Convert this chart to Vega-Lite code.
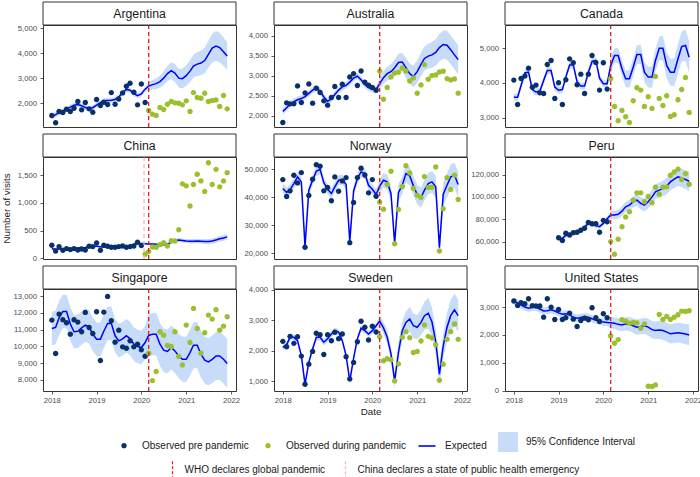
{
  "$schema": "https://vega.github.io/schema/vega-lite/v6.json",
  "padding": {"left": 0, "right": 2, "top": 0, "bottom": 2},
  "datasets": {
    "ev": [
      {"k": "who", "d": "2020-03-01", "event": "WHO declares global pandemic"},
      {"k": "china", "d": "2020-01-23", "event": "China declares a state of public health emergency"}
    ],
    "names": [
      {"c": "Argentina"}, {"c": "Australia"}, {"c": "Canada"}, {"c": "China"}, {"c": "Norway"}, {"c": "Peru"}, {"c": "Singapore"}, {"c": "Sweden"}, {"c": "United States"}
    ],
    "obs": [
      {"c":"Argentina","d":"2018-01-01","o":1511,"p":"pre","e":1450,"l":1350,"h":1550},
      {"c":"Argentina","d":"2018-02-01","o":1220,"p":"pre","e":1540,"l":1440,"h":1640},
      {"c":"Argentina","d":"2018-03-01","o":1670,"p":"pre","e":1620,"l":1520,"h":1720},
      {"c":"Argentina","d":"2018-04-01","o":1630,"p":"pre","e":1680,"l":1580,"h":1780},
      {"c":"Argentina","d":"2018-05-01","o":1760,"p":"pre","e":1760,"l":1660,"h":1860},
      {"c":"Argentina","d":"2018-06-01","o":1670,"p":"pre","e":1840,"l":1740,"h":1940},
      {"c":"Argentina","d":"2018-07-01","o":1800,"p":"pre","e":1920,"l":1820,"h":2020},
      {"c":"Argentina","d":"2018-08-01","o":2066,"p":"pre","e":1950,"l":1850,"h":2050},
      {"c":"Argentina","d":"2018-09-01","o":1735,"p":"pre","e":1900,"l":1800,"h":2000},
      {"c":"Argentina","d":"2018-10-01","o":2026,"p":"pre","e":1830,"l":1730,"h":1930},
      {"c":"Argentina","d":"2018-11-01","o":1775,"p":"pre","e":1790,"l":1690,"h":1890},
      {"c":"Argentina","d":"2018-12-01","o":1640,"p":"pre","e":1820,"l":1720,"h":1920},
      {"c":"Argentina","d":"2019-01-01","o":2145,"p":"pre","e":1920,"l":1820,"h":2020},
      {"c":"Argentina","d":"2019-02-01","o":1907,"p":"pre","e":2020,"l":1920,"h":2120},
      {"c":"Argentina","d":"2019-03-01","o":2040,"p":"pre","e":2100,"l":2000,"h":2200},
      {"c":"Argentina","d":"2019-04-01","o":1947,"p":"pre","e":2110,"l":2010,"h":2210},
      {"c":"Argentina","d":"2019-05-01","o":2423,"p":"pre","e":2120,"l":2020,"h":2220},
      {"c":"Argentina","d":"2019-06-01","o":1960,"p":"pre","e":2150,"l":2050,"h":2250},
      {"c":"Argentina","d":"2019-07-01","o":2170,"p":"pre","e":2250,"l":2150,"h":2350},
      {"c":"Argentina","d":"2019-08-01","o":2410,"p":"pre","e":2420,"l":2320,"h":2520},
      {"c":"Argentina","d":"2019-09-01","o":2675,"p":"pre","e":2550,"l":2450,"h":2650},
      {"c":"Argentina","d":"2019-10-01","o":2794,"p":"pre","e":2520,"l":2420,"h":2620},
      {"c":"Argentina","d":"2019-11-01","o":2437,"p":"pre","e":2380,"l":2280,"h":2480},
      {"c":"Argentina","d":"2019-12-01","o":1934,"p":"pre","e":2300,"l":2200,"h":2400},
      {"c":"Argentina","d":"2020-01-01","o":2767,"p":"pre","e":2370,"l":2270,"h":2470},
      {"c":"Argentina","d":"2020-02-01","o":2026,"p":"pre","e":2560,"l":2460,"h":2660},
      {"c":"Argentina","d":"2020-03-01","o":1709,"p":"dur","e":2680,"l":2510,"h":2850},
      {"c":"Argentina","d":"2020-04-01","o":1563,"p":"dur","e":2740,"l":2550,"h":2930},
      {"c":"Argentina","d":"2020-05-01","o":1511,"p":"dur","e":2780,"l":2570,"h":2990},
      {"c":"Argentina","d":"2020-06-01","o":1828,"p":"dur","e":2860,"l":2620,"h":3100},
      {"c":"Argentina","d":"2020-07-01","o":1749,"p":"dur","e":3000,"l":2730,"h":3270},
      {"c":"Argentina","d":"2020-08-01","o":1960,"p":"dur","e":3180,"l":2880,"h":3480},
      {"c":"Argentina","d":"2020-09-01","o":2066,"p":"dur","e":3300,"l":2970,"h":3630},
      {"c":"Argentina","d":"2020-10-01","o":2013,"p":"dur","e":3200,"l":2850,"h":3550},
      {"c":"Argentina","d":"2020-11-01","o":2000,"p":"dur","e":3000,"l":2630,"h":3370},
      {"c":"Argentina","d":"2020-12-01","o":1934,"p":"dur","e":2980,"l":2590,"h":3370},
      {"c":"Argentina","d":"2021-01-01","o":2093,"p":"dur","e":3100,"l":2690,"h":3510},
      {"c":"Argentina","d":"2021-02-01","o":1670,"p":"dur","e":3280,"l":2850,"h":3710},
      {"c":"Argentina","d":"2021-03-01","o":2423,"p":"dur","e":3480,"l":3030,"h":3930},
      {"c":"Argentina","d":"2021-04-01","o":2225,"p":"dur","e":3560,"l":3090,"h":4030},
      {"c":"Argentina","d":"2021-05-01","o":2198,"p":"dur","e":3600,"l":3110,"h":4090},
      {"c":"Argentina","d":"2021-06-01","o":2397,"p":"dur","e":3700,"l":3190,"h":4210},
      {"c":"Argentina","d":"2021-07-01","o":2066,"p":"dur","e":3950,"l":3410,"h":4490},
      {"c":"Argentina","d":"2021-08-01","o":2106,"p":"dur","e":4200,"l":3630,"h":4770},
      {"c":"Argentina","d":"2021-09-01","o":2132,"p":"dur","e":4280,"l":3680,"h":4880},
      {"c":"Argentina","d":"2021-10-01","o":1868,"p":"dur","e":4220,"l":3630,"h":4810},
      {"c":"Argentina","d":"2021-11-01","o":2304,"p":"dur","e":4050,"l":3480,"h":4620},
      {"c":"Argentina","d":"2021-12-01","o":1775,"p":"dur","e":3880,"l":3330,"h":4430},

      {"c":"Australia","d":"2018-01-01","o":1834,"p":"pre","e":2110,"l":2030,"h":2190},
      {"c":"Australia","d":"2018-02-01","o":2323,"p":"pre","e":2200,"l":2120,"h":2280},
      {"c":"Australia","d":"2018-03-01","o":2298,"p":"pre","e":2290,"l":2210,"h":2370},
      {"c":"Australia","d":"2018-04-01","o":2298,"p":"pre","e":2350,"l":2270,"h":2430},
      {"c":"Australia","d":"2018-05-01","o":2746,"p":"pre","e":2400,"l":2320,"h":2480},
      {"c":"Australia","d":"2018-06-01","o":2332,"p":"pre","e":2430,"l":2350,"h":2510},
      {"c":"Australia","d":"2018-07-01","o":2572,"p":"pre","e":2480,"l":2400,"h":2560},
      {"c":"Australia","d":"2018-08-01","o":2796,"p":"pre","e":2560,"l":2480,"h":2640},
      {"c":"Australia","d":"2018-09-01","o":2315,"p":"pre","e":2640,"l":2560,"h":2720},
      {"c":"Australia","d":"2018-10-01","o":2688,"p":"pre","e":2690,"l":2610,"h":2770},
      {"c":"Australia","d":"2018-11-01","o":2580,"p":"pre","e":2620,"l":2540,"h":2700},
      {"c":"Australia","d":"2018-12-01","o":2373,"p":"pre","e":2470,"l":2390,"h":2550},
      {"c":"Australia","d":"2019-01-01","o":2265,"p":"pre","e":2360,"l":2280,"h":2440},
      {"c":"Australia","d":"2019-02-01","o":2456,"p":"pre","e":2420,"l":2340,"h":2500},
      {"c":"Australia","d":"2019-03-01","o":2730,"p":"pre","e":2530,"l":2450,"h":2610},
      {"c":"Australia","d":"2019-04-01","o":2456,"p":"pre","e":2640,"l":2560,"h":2720},
      {"c":"Australia","d":"2019-05-01","o":2788,"p":"pre","e":2720,"l":2640,"h":2800},
      {"c":"Australia","d":"2019-06-01","o":2456,"p":"pre","e":2760,"l":2680,"h":2840},
      {"c":"Australia","d":"2019-07-01","o":2970,"p":"pre","e":2840,"l":2760,"h":2920},
      {"c":"Australia","d":"2019-08-01","o":3053,"p":"pre","e":2940,"l":2860,"h":3020},
      {"c":"Australia","d":"2019-09-01","o":2754,"p":"pre","e":2990,"l":2910,"h":3070},
      {"c":"Australia","d":"2019-10-01","o":3119,"p":"pre","e":2900,"l":2820,"h":2980},
      {"c":"Australia","d":"2019-11-01","o":2837,"p":"pre","e":2780,"l":2700,"h":2860},
      {"c":"Australia","d":"2019-12-01","o":2763,"p":"pre","e":2700,"l":2620,"h":2780},
      {"c":"Australia","d":"2020-01-01","o":2705,"p":"pre","e":2660,"l":2580,"h":2740},
      {"c":"Australia","d":"2020-02-01","o":2638,"p":"pre","e":2650,"l":2570,"h":2730},
      {"c":"Australia","d":"2020-03-01","o":3111,"p":"dur","e":2800,"l":2660,"h":2940},
      {"c":"Australia","d":"2020-04-01","o":2414,"p":"dur","e":2950,"l":2790,"h":3110},
      {"c":"Australia","d":"2020-05-01","o":2705,"p":"dur","e":3050,"l":2875,"h":3225},
      {"c":"Australia","d":"2020-06-01","o":2970,"p":"dur","e":3100,"l":2910,"h":3290},
      {"c":"Australia","d":"2020-07-01","o":3069,"p":"dur","e":3200,"l":2995,"h":3405},
      {"c":"Australia","d":"2020-08-01","o":3086,"p":"dur","e":3330,"l":3110,"h":3550},
      {"c":"Australia","d":"2020-09-01","o":3194,"p":"dur","e":3340,"l":3105,"h":3575},
      {"c":"Australia","d":"2020-10-01","o":3119,"p":"dur","e":3200,"l":2950,"h":3450},
      {"c":"Australia","d":"2020-11-01","o":2870,"p":"dur","e":3050,"l":2790,"h":3310},
      {"c":"Australia","d":"2020-12-01","o":2945,"p":"dur","e":2980,"l":2710,"h":3250},
      {"c":"Australia","d":"2021-01-01","o":2564,"p":"dur","e":3100,"l":2820,"h":3380},
      {"c":"Australia","d":"2021-02-01","o":2771,"p":"dur","e":3280,"l":2990,"h":3570},
      {"c":"Australia","d":"2021-03-01","o":3277,"p":"dur","e":3430,"l":3130,"h":3730},
      {"c":"Australia","d":"2021-04-01","o":2912,"p":"dur","e":3490,"l":3180,"h":3800},
      {"c":"Australia","d":"2021-05-01","o":3003,"p":"dur","e":3520,"l":3200,"h":3840},
      {"c":"Australia","d":"2021-06-01","o":3020,"p":"dur","e":3580,"l":3250,"h":3910},
      {"c":"Australia","d":"2021-07-01","o":3094,"p":"dur","e":3700,"l":3360,"h":4040},
      {"c":"Australia","d":"2021-08-01","o":3111,"p":"dur","e":3780,"l":3430,"h":4130},
      {"c":"Australia","d":"2021-09-01","o":2928,"p":"dur","e":3760,"l":3400,"h":4120},
      {"c":"Australia","d":"2021-10-01","o":2895,"p":"dur","e":3650,"l":3290,"h":4010},
      {"c":"Australia","d":"2021-11-01","o":2920,"p":"dur","e":3520,"l":3160,"h":3880},
      {"c":"Australia","d":"2021-12-01","o":2564,"p":"dur","e":3400,"l":3040,"h":3760},

      {"c":"Canada","d":"2018-01-01","o":4083,"p":"pre","e":3590,"l":3490,"h":3690},
      {"c":"Canada","d":"2018-02-01","o":3383,"p":"pre","e":3590,"l":3490,"h":3690},
      {"c":"Canada","d":"2018-03-01","o":4130,"p":"pre","e":3930,"l":3830,"h":4030},
      {"c":"Canada","d":"2018-04-01","o":4198,"p":"pre","e":4290,"l":4190,"h":4390},
      {"c":"Canada","d":"2018-05-01","o":4427,"p":"pre","e":4310,"l":4210,"h":4410},
      {"c":"Canada","d":"2018-06-01","o":3881,"p":"pre","e":3810,"l":3710,"h":3910},
      {"c":"Canada","d":"2018-07-01","o":3939,"p":"pre","e":3740,"l":3640,"h":3840},
      {"c":"Canada","d":"2018-08-01","o":3718,"p":"pre","e":3760,"l":3660,"h":3860},
      {"c":"Canada","d":"2018-09-01","o":3699,"p":"pre","e":4070,"l":3970,"h":4170},
      {"c":"Canada","d":"2018-10-01","o":4533,"p":"pre","e":4360,"l":4260,"h":4460},
      {"c":"Canada","d":"2018-11-01","o":4648,"p":"pre","e":4360,"l":4260,"h":4460},
      {"c":"Canada","d":"2018-12-01","o":3556,"p":"pre","e":3880,"l":3780,"h":3980},
      {"c":"Canada","d":"2019-01-01","o":4006,"p":"pre","e":3790,"l":3690,"h":3890},
      {"c":"Canada","d":"2019-02-01","o":3383,"p":"pre","e":3810,"l":3710,"h":3910},
      {"c":"Canada","d":"2019-03-01","o":4092,"p":"pre","e":4170,"l":4070,"h":4270},
      {"c":"Canada","d":"2019-04-01","o":4696,"p":"pre","e":4520,"l":4420,"h":4620},
      {"c":"Canada","d":"2019-05-01","o":4581,"p":"pre","e":4520,"l":4420,"h":4620},
      {"c":"Canada","d":"2019-06-01","o":3948,"p":"pre","e":4030,"l":3930,"h":4130},
      {"c":"Canada","d":"2019-07-01","o":4255,"p":"pre","e":3910,"l":3810,"h":4010},
      {"c":"Canada","d":"2019-08-01","o":3699,"p":"pre","e":3910,"l":3810,"h":4010},
      {"c":"Canada","d":"2019-09-01","o":4255,"p":"pre","e":4310,"l":4210,"h":4410},
      {"c":"Canada","d":"2019-10-01","o":4791,"p":"pre","e":4620,"l":4520,"h":4720},
      {"c":"Canada","d":"2019-11-01","o":4590,"p":"pre","e":4650,"l":4550,"h":4750},
      {"c":"Canada","d":"2019-12-01","o":3795,"p":"pre","e":4140,"l":4040,"h":4240},
      {"c":"Canada","d":"2020-01-01","o":4581,"p":"pre","e":3980,"l":3880,"h":4080},
      {"c":"Canada","d":"2020-02-01","o":3824,"p":"pre","e":3980,"l":3880,"h":4080},
      {"c":"Canada","d":"2020-03-01","o":4130,"p":"dur","e":4500,"l":4300,"h":4700},
      {"c":"Canada","d":"2020-04-01","o":3326,"p":"dur","e":4790,"l":4580,"h":5000},
      {"c":"Canada","d":"2020-05-01","o":2914,"p":"dur","e":4790,"l":4570,"h":5010},
      {"c":"Canada","d":"2020-06-01","o":3211,"p":"dur","e":4410,"l":4180,"h":4640},
      {"c":"Canada","d":"2020-07-01","o":3029,"p":"dur","e":4120,"l":3880,"h":4360},
      {"c":"Canada","d":"2020-08-01","o":2866,"p":"dur","e":4120,"l":3870,"h":4370},
      {"c":"Canada","d":"2020-09-01","o":3489,"p":"dur","e":4460,"l":4200,"h":4720},
      {"c":"Canada","d":"2020-10-01","o":3862,"p":"dur","e":4820,"l":4550,"h":5090},
      {"c":"Canada","d":"2020-11-01","o":3795,"p":"dur","e":4820,"l":4540,"h":5100},
      {"c":"Canada","d":"2020-12-01","o":3326,"p":"dur","e":4310,"l":4020,"h":4600},
      {"c":"Canada","d":"2021-01-01","o":3604,"p":"dur","e":4170,"l":3870,"h":4470},
      {"c":"Canada","d":"2021-02-01","o":3268,"p":"dur","e":4170,"l":3860,"h":4480},
      {"c":"Canada","d":"2021-03-01","o":4188,"p":"dur","e":4650,"l":4330,"h":4970},
      {"c":"Canada","d":"2021-04-01","o":3556,"p":"dur","e":5000,"l":4670,"h":5330},
      {"c":"Canada","d":"2021-05-01","o":3354,"p":"dur","e":5000,"l":4640,"h":5360},
      {"c":"Canada","d":"2021-06-01","o":3632,"p":"dur","e":4500,"l":4130,"h":4870},
      {"c":"Canada","d":"2021-07-01","o":3038,"p":"dur","e":4310,"l":3930,"h":4690},
      {"c":"Canada","d":"2021-08-01","o":3086,"p":"dur","e":4310,"l":3910,"h":4710},
      {"c":"Canada","d":"2021-09-01","o":3517,"p":"dur","e":4700,"l":4280,"h":5120},
      {"c":"Canada","d":"2021-10-01","o":3814,"p":"dur","e":5050,"l":4610,"h":5490},
      {"c":"Canada","d":"2021-11-01","o":4159,"p":"dur","e":5080,"l":4630,"h":5530},
      {"c":"Canada","d":"2021-12-01","o":3153,"p":"dur","e":4740,"l":4290,"h":5190},

      {"c":"China","d":"2018-01-01","o":233,"p":"pre","e":170,"l":155,"h":185},
      {"c":"China","d":"2018-02-01","o":131,"p":"pre","e":160,"l":145,"h":175},
      {"c":"China","d":"2018-03-01","o":209,"p":"pre","e":165,"l":150,"h":180},
      {"c":"China","d":"2018-04-01","o":143,"p":"pre","e":170,"l":155,"h":185},
      {"c":"China","d":"2018-05-01","o":173,"p":"pre","e":170,"l":155,"h":185},
      {"c":"China","d":"2018-06-01","o":155,"p":"pre","e":175,"l":160,"h":190},
      {"c":"China","d":"2018-07-01","o":173,"p":"pre","e":180,"l":165,"h":195},
      {"c":"China","d":"2018-08-01","o":149,"p":"pre","e":185,"l":170,"h":200},
      {"c":"China","d":"2018-09-01","o":167,"p":"pre","e":190,"l":175,"h":205},
      {"c":"China","d":"2018-10-01","o":149,"p":"pre","e":195,"l":180,"h":210},
      {"c":"China","d":"2018-11-01","o":215,"p":"pre","e":205,"l":190,"h":220},
      {"c":"China","d":"2018-12-01","o":209,"p":"pre","e":215,"l":200,"h":230},
      {"c":"China","d":"2019-01-01","o":275,"p":"pre","e":215,"l":200,"h":230},
      {"c":"China","d":"2019-02-01","o":143,"p":"pre","e":205,"l":190,"h":220},
      {"c":"China","d":"2019-03-01","o":233,"p":"pre","e":200,"l":185,"h":215},
      {"c":"China","d":"2019-04-01","o":215,"p":"pre","e":200,"l":185,"h":215},
      {"c":"China","d":"2019-05-01","o":197,"p":"pre","e":200,"l":185,"h":215},
      {"c":"China","d":"2019-06-01","o":197,"p":"pre","e":200,"l":185,"h":215},
      {"c":"China","d":"2019-07-01","o":209,"p":"pre","e":205,"l":190,"h":220},
      {"c":"China","d":"2019-08-01","o":221,"p":"pre","e":210,"l":195,"h":225},
      {"c":"China","d":"2019-09-01","o":197,"p":"pre","e":215,"l":200,"h":230},
      {"c":"China","d":"2019-10-01","o":209,"p":"pre","e":225,"l":210,"h":240},
      {"c":"China","d":"2019-11-01","o":221,"p":"pre","e":250,"l":235,"h":265},
      {"c":"China","d":"2019-12-01","o":287,"p":"pre","e":270,"l":255,"h":285},
      {"c":"China","d":"2020-01-01","o":227,"p":"pre","e":265,"l":250,"h":280},
      {"c":"China","d":"2020-02-01","o":72,"p":"dur","e":260,"l":240,"h":280},
      {"c":"China","d":"2020-03-01","o":119,"p":"dur","e":255,"l":233,"h":277},
      {"c":"China","d":"2020-04-01","o":203,"p":"dur","e":255,"l":232,"h":278},
      {"c":"China","d":"2020-05-01","o":197,"p":"dur","e":250,"l":225,"h":275},
      {"c":"China","d":"2020-06-01","o":245,"p":"dur","e":245,"l":219,"h":271},
      {"c":"China","d":"2020-07-01","o":281,"p":"dur","e":245,"l":217,"h":273},
      {"c":"China","d":"2020-08-01","o":221,"p":"dur","e":255,"l":226,"h":284},
      {"c":"China","d":"2020-09-01","o":317,"p":"dur","e":285,"l":254,"h":316},
      {"c":"China","d":"2020-10-01","o":311,"p":"dur","e":315,"l":283,"h":347},
      {"c":"China","d":"2020-11-01","o":514,"p":"dur","e":330,"l":296,"h":364},
      {"c":"China","d":"2020-12-01","o":1344,"p":"dur","e":320,"l":285,"h":355},
      {"c":"China","d":"2021-01-01","o":1308,"p":"dur","e":310,"l":273,"h":347},
      {"c":"China","d":"2021-02-01","o":944,"p":"dur","e":305,"l":267,"h":343},
      {"c":"China","d":"2021-03-01","o":1332,"p":"dur","e":305,"l":265,"h":345},
      {"c":"China","d":"2021-04-01","o":1517,"p":"dur","e":310,"l":269,"h":351},
      {"c":"China","d":"2021-05-01","o":1398,"p":"dur","e":305,"l":262,"h":348},
      {"c":"China","d":"2021-06-01","o":1207,"p":"dur","e":300,"l":256,"h":344},
      {"c":"China","d":"2021-07-01","o":1726,"p":"dur","e":300,"l":254,"h":346},
      {"c":"China","d":"2021-08-01","o":1332,"p":"dur","e":310,"l":263,"h":357},
      {"c":"China","d":"2021-09-01","o":1607,"p":"dur","e":330,"l":281,"h":379},
      {"c":"China","d":"2021-10-01","o":1290,"p":"dur","e":350,"l":300,"h":400},
      {"c":"China","d":"2021-11-01","o":1398,"p":"dur","e":365,"l":313,"h":417},
      {"c":"China","d":"2021-12-01","o":1547,"p":"dur","e":385,"l":332,"h":438},

      {"c":"Norway","d":"2018-01-01","o":46330,"p":"pre","e":43130,"l":41330,"h":44930},
      {"c":"Norway","d":"2018-02-01","o":40280,"p":"pre","e":41700,"l":39900,"h":43500},
      {"c":"Norway","d":"2018-03-01","o":42300,"p":"pre","e":42770,"l":40970,"h":44570},
      {"c":"Norway","d":"2018-04-01","o":47870,"p":"pre","e":44910,"l":43110,"h":46710},
      {"c":"Norway","d":"2018-05-01","o":45140,"p":"pre","e":47280,"l":45480,"h":49080},
      {"c":"Norway","d":"2018-06-01","o":48820,"p":"pre","e":45500,"l":43700,"h":47300},
      {"c":"Norway","d":"2018-07-01","o":22140,"p":"pre","e":22370,"l":20570,"h":24170},
      {"c":"Norway","d":"2018-08-01","o":40640,"p":"pre","e":42530,"l":40730,"h":44330},
      {"c":"Norway","d":"2018-09-01","o":46450,"p":"pre","e":46090,"l":44290,"h":47890},
      {"c":"Norway","d":"2018-10-01","o":51670,"p":"pre","e":49290,"l":47490,"h":51090},
      {"c":"Norway","d":"2018-11-01","o":51070,"p":"pre","e":50010,"l":48210,"h":51810},
      {"c":"Norway","d":"2018-12-01","o":42300,"p":"pre","e":45260,"l":43460,"h":47060},
      {"c":"Norway","d":"2019-01-01","o":43480,"p":"pre","e":42890,"l":41090,"h":44690},
      {"c":"Norway","d":"2019-02-01","o":38740,"p":"pre","e":41350,"l":39550,"h":43150},
      {"c":"Norway","d":"2019-03-01","o":47280,"p":"pre","e":43720,"l":41920,"h":45520},
      {"c":"Norway","d":"2019-04-01","o":42180,"p":"pre","e":46090,"l":44290,"h":47890},
      {"c":"Norway","d":"2019-05-01","o":45860,"p":"pre","e":46330,"l":44530,"h":48130},
      {"c":"Norway","d":"2019-06-01","o":47040,"p":"pre","e":44550,"l":42750,"h":46350},
      {"c":"Norway","d":"2019-07-01","o":23800,"p":"pre","e":24150,"l":22350,"h":25950},
      {"c":"Norway","d":"2019-08-01","o":38150,"p":"pre","e":42180,"l":40380,"h":43980},
      {"c":"Norway","d":"2019-09-01","o":47040,"p":"pre","e":46690,"l":44890,"h":48490},
      {"c":"Norway","d":"2019-10-01","o":50360,"p":"pre","e":49060,"l":47260,"h":50860},
      {"c":"Norway","d":"2019-11-01","o":47990,"p":"pre","e":48460,"l":46660,"h":50260},
      {"c":"Norway","d":"2019-12-01","o":41590,"p":"pre","e":44310,"l":42510,"h":46110},
      {"c":"Norway","d":"2020-01-01","o":46330,"p":"pre","e":42890,"l":41090,"h":44690},
      {"c":"Norway","d":"2020-02-01","o":40400,"p":"pre","e":40990,"l":39190,"h":42790},
      {"c":"Norway","d":"2020-03-01","o":38260,"p":"dur","e":43960,"l":41460,"h":46460},
      {"c":"Norway","d":"2020-04-01","o":35770,"p":"dur","e":46090,"l":43490,"h":48690},
      {"c":"Norway","d":"2020-05-01","o":44550,"p":"dur","e":45500,"l":42800,"h":48200},
      {"c":"Norway","d":"2020-06-01","o":49290,"p":"dur","e":41350,"l":38550,"h":44150},
      {"c":"Norway","d":"2020-07-01","o":23440,"p":"dur","e":23560,"l":21060,"h":26060},
      {"c":"Norway","d":"2020-08-01","o":35660,"p":"dur","e":41700,"l":38700,"h":44700},
      {"c":"Norway","d":"2020-09-01","o":43840,"p":"dur","e":44310,"l":41210,"h":47410},
      {"c":"Norway","d":"2020-10-01","o":51310,"p":"dur","e":48460,"l":45260,"h":51660},
      {"c":"Norway","d":"2020-11-01","o":48700,"p":"dur","e":47630,"l":44330,"h":50930},
      {"c":"Norway","d":"2020-12-01","o":43130,"p":"dur","e":44080,"l":40680,"h":47480},
      {"c":"Norway","d":"2021-01-01","o":40760,"p":"dur","e":40990,"l":37490,"h":44490},
      {"c":"Norway","d":"2021-02-01","o":39930,"p":"dur","e":39930,"l":36330,"h":43530},
      {"c":"Norway","d":"2021-03-01","o":47400,"p":"dur","e":42530,"l":38830,"h":46230},
      {"c":"Norway","d":"2021-04-01","o":43480,"p":"dur","e":44910,"l":41110,"h":48710},
      {"c":"Norway","d":"2021-05-01","o":43600,"p":"dur","e":45500,"l":41600,"h":49400},
      {"c":"Norway","d":"2021-06-01","o":50840,"p":"dur","e":43720,"l":39720,"h":47720},
      {"c":"Norway","d":"2021-07-01","o":20830,"p":"dur","e":22020,"l":19020,"h":25020},
      {"c":"Norway","d":"2021-08-01","o":35890,"p":"dur","e":41110,"l":36910,"h":45310},
      {"c":"Norway","d":"2021-09-01","o":47040,"p":"dur","e":44310,"l":40010,"h":48610},
      {"c":"Norway","d":"2021-10-01","o":42770,"p":"dur","e":47280,"l":42880,"h":51680},
      {"c":"Norway","d":"2021-11-01","o":47870,"p":"dur","e":47870,"l":43370,"h":52370},
      {"c":"Norway","d":"2021-12-01","o":39210,"p":"dur","e":44550,"l":39950,"h":49150},

      {"c":"Peru","d":"2019-01-01","o":63500,"p":"pre","e":62000,"l":60000,"h":64000},
      {"c":"Peru","d":"2019-02-01","o":61000,"p":"pre","e":63000,"l":61000,"h":65000},
      {"c":"Peru","d":"2019-03-01","o":67430,"p":"pre","e":65500,"l":63500,"h":67500},
      {"c":"Peru","d":"2019-04-01","o":65940,"p":"pre","e":66500,"l":64500,"h":68500},
      {"c":"Peru","d":"2019-05-01","o":68020,"p":"pre","e":67700,"l":65700,"h":69700},
      {"c":"Peru","d":"2019-06-01","o":68320,"p":"pre","e":69000,"l":67000,"h":71000},
      {"c":"Peru","d":"2019-07-01","o":70110,"p":"pre","e":70400,"l":68400,"h":72400},
      {"c":"Peru","d":"2019-08-01","o":71890,"p":"pre","e":73000,"l":71000,"h":75000},
      {"c":"Peru","d":"2019-09-01","o":77240,"p":"pre","e":76300,"l":74300,"h":78300},
      {"c":"Peru","d":"2019-10-01","o":76050,"p":"pre","e":75500,"l":73500,"h":77500},
      {"c":"Peru","d":"2019-11-01","o":76050,"p":"pre","e":74300,"l":72300,"h":76300},
      {"c":"Peru","d":"2019-12-01","o":68320,"p":"pre","e":73400,"l":71400,"h":75400},
      {"c":"Peru","d":"2020-01-01","o":79020,"p":"pre","e":76300,"l":74300,"h":78300},
      {"c":"Peru","d":"2020-02-01","o":77830,"p":"pre","e":80500,"l":78500,"h":82500},
      {"c":"Peru","d":"2020-03-01","o":60000,"p":"dur","e":83800,"l":80300,"h":87300},
      {"c":"Peru","d":"2020-04-01","o":48710,"p":"dur","e":83800,"l":80000,"h":87600},
      {"c":"Peru","d":"2020-05-01","o":62080,"p":"dur","e":84400,"l":80400,"h":88400},
      {"c":"Peru","d":"2020-06-01","o":73370,"p":"dur","e":87300,"l":83000,"h":91600},
      {"c":"Peru","d":"2020-07-01","o":81990,"p":"dur","e":91200,"l":86700,"h":95700},
      {"c":"Peru","d":"2020-08-01","o":86750,"p":"dur","e":92700,"l":87900,"h":97500},
      {"c":"Peru","d":"2020-09-01","o":97150,"p":"dur","e":95700,"l":90700,"h":100700},
      {"c":"Peru","d":"2020-10-01","o":103690,"p":"dur","e":97200,"l":91900,"h":102500},
      {"c":"Peru","d":"2020-11-01","o":103690,"p":"dur","e":94200,"l":88700,"h":99700},
      {"c":"Peru","d":"2020-12-01","o":95660,"p":"dur","e":92700,"l":86900,"h":98500},
      {"c":"Peru","d":"2021-01-01","o":100420,"p":"dur","e":95700,"l":89700,"h":101700},
      {"c":"Peru","d":"2021-02-01","o":94770,"p":"dur","e":100100,"l":93800,"h":106400},
      {"c":"Peru","d":"2021-03-01","o":108740,"p":"dur","e":104600,"l":98100,"h":111100},
      {"c":"Peru","d":"2021-04-01","o":102500,"p":"dur","e":106100,"l":99300,"h":112900},
      {"c":"Peru","d":"2021-05-01","o":108740,"p":"dur","e":107600,"l":100600,"h":114600},
      {"c":"Peru","d":"2021-06-01","o":109040,"p":"dur","e":109900,"l":102600,"h":117200},
      {"c":"Peru","d":"2021-07-01","o":119440,"p":"dur","e":113500,"l":106000,"h":121000},
      {"c":"Peru","d":"2021-08-01","o":122410,"p":"dur","e":115900,"l":108100,"h":123700},
      {"c":"Peru","d":"2021-09-01","o":124790,"p":"dur","e":118000,"l":110000,"h":126000},
      {"c":"Peru","d":"2021-10-01","o":115580,"p":"dur","e":117100,"l":108800,"h":125400},
      {"c":"Peru","d":"2021-11-01","o":120930,"p":"dur","e":115600,"l":107100,"h":124100},
      {"c":"Peru","d":"2021-12-01","o":111420,"p":"dur","e":114100,"l":105300,"h":122900},

      {"c":"Singapore","d":"2018-01-01","o":11566,"p":"pre","e":11070,"l":10070,"h":12070},
      {"c":"Singapore","d":"2018-02-01","o":9574,"p":"pre","e":11130,"l":10130,"h":12130},
      {"c":"Singapore","d":"2018-03-01","o":11924,"p":"pre","e":11700,"l":10700,"h":12700},
      {"c":"Singapore","d":"2018-04-01","o":11586,"p":"pre","e":12080,"l":11080,"h":13080},
      {"c":"Singapore","d":"2018-05-01","o":11406,"p":"pre","e":12080,"l":11080,"h":13080},
      {"c":"Singapore","d":"2018-06-01","o":10729,"p":"pre","e":11330,"l":10330,"h":12330},
      {"c":"Singapore","d":"2018-07-01","o":11586,"p":"pre","e":10870,"l":9870,"h":11870},
      {"c":"Singapore","d":"2018-08-01","o":11446,"p":"pre","e":10900,"l":9900,"h":11900},
      {"c":"Singapore","d":"2018-09-01","o":10868,"p":"pre","e":11100,"l":10100,"h":12100},
      {"c":"Singapore","d":"2018-10-01","o":12024,"p":"pre","e":11270,"l":10270,"h":12270},
      {"c":"Singapore","d":"2018-11-01","o":11127,"p":"pre","e":11150,"l":10150,"h":12150},
      {"c":"Singapore","d":"2018-12-01","o":10769,"p":"pre","e":10730,"l":9730,"h":11730},
      {"c":"Singapore","d":"2019-01-01","o":12064,"p":"pre","e":10430,"l":9430,"h":11430},
      {"c":"Singapore","d":"2019-02-01","o":9155,"p":"pre","e":10430,"l":9430,"h":11430},
      {"c":"Singapore","d":"2019-03-01","o":12044,"p":"pre","e":10900,"l":9900,"h":11900},
      {"c":"Singapore","d":"2019-04-01","o":12980,"p":"pre","e":11370,"l":10370,"h":12370},
      {"c":"Singapore","d":"2019-05-01","o":11526,"p":"pre","e":11370,"l":10370,"h":12370},
      {"c":"Singapore","d":"2019-06-01","o":10251,"p":"pre","e":10630,"l":9630,"h":11630},
      {"c":"Singapore","d":"2019-07-01","o":10968,"p":"pre","e":10330,"l":9330,"h":11330},
      {"c":"Singapore","d":"2019-08-01","o":9972,"p":"pre","e":10450,"l":9450,"h":11450},
      {"c":"Singapore","d":"2019-09-01","o":9892,"p":"pre","e":10630,"l":9630,"h":11630},
      {"c":"Singapore","d":"2019-10-01","o":10331,"p":"pre","e":10470,"l":9470,"h":11470},
      {"c":"Singapore","d":"2019-11-01","o":9972,"p":"pre","e":10130,"l":9130,"h":11130},
      {"c":"Singapore","d":"2019-12-01","o":10131,"p":"pre","e":9990,"l":8990,"h":10990},
      {"c":"Singapore","d":"2020-01-01","o":9793,"p":"pre","e":9930,"l":8930,"h":10930},
      {"c":"Singapore","d":"2020-02-01","o":9414,"p":"pre","e":10230,"l":9230,"h":11230},
      {"c":"Singapore","d":"2020-03-01","o":9594,"p":"dur","e":10650,"l":9400,"h":11900},
      {"c":"Singapore","d":"2020-04-01","o":7960,"p":"dur","e":10730,"l":9470,"h":11990},
      {"c":"Singapore","d":"2020-05-01","o":8498,"p":"dur","e":10730,"l":9460,"h":12000},
      {"c":"Singapore","d":"2020-06-01","o":10868,"p":"dur","e":10130,"l":8850,"h":11410},
      {"c":"Singapore","d":"2020-07-01","o":10669,"p":"dur","e":9770,"l":8480,"h":11060},
      {"c":"Singapore","d":"2020-08-01","o":10052,"p":"dur","e":9700,"l":8400,"h":11000},
      {"c":"Singapore","d":"2020-09-01","o":9992,"p":"dur","e":9930,"l":8620,"h":11240},
      {"c":"Singapore","d":"2020-10-01","o":10868,"p":"dur","e":9730,"l":8410,"h":11050},
      {"c":"Singapore","d":"2020-11-01","o":9394,"p":"dur","e":9430,"l":8100,"h":10760},
      {"c":"Singapore","d":"2020-12-01","o":8896,"p":"dur","e":9230,"l":7890,"h":10570},
      {"c":"Singapore","d":"2021-01-01","o":11267,"p":"dur","e":9230,"l":7880,"h":10580},
      {"c":"Singapore","d":"2021-02-01","o":10231,"p":"dur","e":9630,"l":8270,"h":10990},
      {"c":"Singapore","d":"2021-03-01","o":12263,"p":"dur","e":10070,"l":8700,"h":11440},
      {"c":"Singapore","d":"2021-04-01","o":11068,"p":"dur","e":10070,"l":8690,"h":11450},
      {"c":"Singapore","d":"2021-05-01","o":9594,"p":"dur","e":9530,"l":8140,"h":10920},
      {"c":"Singapore","d":"2021-06-01","o":10809,"p":"dur","e":9180,"l":7780,"h":10580},
      {"c":"Singapore","d":"2021-07-01","o":11865,"p":"dur","e":9080,"l":7670,"h":10490},
      {"c":"Singapore","d":"2021-08-01","o":11625,"p":"dur","e":9230,"l":7810,"h":10650},
      {"c":"Singapore","d":"2021-09-01","o":12183,"p":"dur","e":9430,"l":8000,"h":10860},
      {"c":"Singapore","d":"2021-10-01","o":10968,"p":"dur","e":9430,"l":7990,"h":10870},
      {"c":"Singapore","d":"2021-11-01","o":11207,"p":"dur","e":9230,"l":7780,"h":10680},
      {"c":"Singapore","d":"2021-12-01","o":11765,"p":"dur","e":8980,"l":7520,"h":10440},

      {"c":"Sweden","d":"2018-01-01","o":2308,"p":"pre","e":2110,"l":2010,"h":2210},
      {"c":"Sweden","d":"2018-02-01","o":2132,"p":"pre","e":2200,"l":2100,"h":2300},
      {"c":"Sweden","d":"2018-03-01","o":2473,"p":"pre","e":2440,"l":2340,"h":2540},
      {"c":"Sweden","d":"2018-04-01","o":2242,"p":"pre","e":2440,"l":2340,"h":2540},
      {"c":"Sweden","d":"2018-05-01","o":2462,"p":"pre","e":2330,"l":2230,"h":2430},
      {"c":"Sweden","d":"2018-06-01","o":1824,"p":"pre","e":1840,"l":1740,"h":1940},
      {"c":"Sweden","d":"2018-07-01","o":901,"p":"pre","e":900,"l":800,"h":1000},
      {"c":"Sweden","d":"2018-08-01","o":1560,"p":"pre","e":1620,"l":1520,"h":1720},
      {"c":"Sweden","d":"2018-09-01","o":1978,"p":"pre","e":2060,"l":1960,"h":2160},
      {"c":"Sweden","d":"2018-10-01","o":2572,"p":"pre","e":2440,"l":2340,"h":2540},
      {"c":"Sweden","d":"2018-11-01","o":2528,"p":"pre","e":2440,"l":2340,"h":2540},
      {"c":"Sweden","d":"2018-12-01","o":1879,"p":"pre","e":2280,"l":2180,"h":2380},
      {"c":"Sweden","d":"2019-01-01","o":2528,"p":"pre","e":2390,"l":2290,"h":2490},
      {"c":"Sweden","d":"2019-02-01","o":2330,"p":"pre","e":2550,"l":2450,"h":2650},
      {"c":"Sweden","d":"2019-03-01","o":2605,"p":"pre","e":2660,"l":2560,"h":2760},
      {"c":"Sweden","d":"2019-04-01","o":2396,"p":"pre","e":2610,"l":2510,"h":2710},
      {"c":"Sweden","d":"2019-05-01","o":2550,"p":"pre","e":2330,"l":2230,"h":2430},
      {"c":"Sweden","d":"2019-06-01","o":1802,"p":"pre","e":1840,"l":1740,"h":1940},
      {"c":"Sweden","d":"2019-07-01","o":1077,"p":"pre","e":1010,"l":910,"h":1110},
      {"c":"Sweden","d":"2019-08-01","o":1615,"p":"pre","e":1750,"l":1650,"h":1850},
      {"c":"Sweden","d":"2019-09-01","o":2297,"p":"pre","e":2390,"l":2290,"h":2490},
      {"c":"Sweden","d":"2019-10-01","o":2967,"p":"pre","e":2740,"l":2640,"h":2840},
      {"c":"Sweden","d":"2019-11-01","o":2769,"p":"pre","e":2660,"l":2560,"h":2760},
      {"c":"Sweden","d":"2019-12-01","o":2352,"p":"pre","e":2550,"l":2450,"h":2650},
      {"c":"Sweden","d":"2020-01-01","o":2802,"p":"pre","e":2660,"l":2560,"h":2760},
      {"c":"Sweden","d":"2020-02-01","o":2616,"p":"pre","e":2820,"l":2720,"h":2920},
      {"c":"Sweden","d":"2020-03-01","o":2462,"p":"dur","e":2970,"l":2790,"h":3150},
      {"c":"Sweden","d":"2020-04-01","o":1670,"p":"dur","e":2750,"l":2550,"h":2950},
      {"c":"Sweden","d":"2020-05-01","o":1736,"p":"dur","e":2450,"l":2230,"h":2670},
      {"c":"Sweden","d":"2020-06-01","o":1703,"p":"dur","e":1900,"l":1670,"h":2130},
      {"c":"Sweden","d":"2020-07-01","o":1011,"p":"dur","e":1010,"l":770,"h":1250},
      {"c":"Sweden","d":"2020-08-01","o":1571,"p":"dur","e":1950,"l":1670,"h":2230},
      {"c":"Sweden","d":"2020-09-01","o":2440,"p":"dur","e":2660,"l":2340,"h":2980},
      {"c":"Sweden","d":"2020-10-01","o":2627,"p":"dur","e":2930,"l":2570,"h":3290},
      {"c":"Sweden","d":"2020-11-01","o":2429,"p":"dur","e":3040,"l":2640,"h":3440},
      {"c":"Sweden","d":"2020-12-01","o":1945,"p":"dur","e":2820,"l":2420,"h":3220},
      {"c":"Sweden","d":"2021-01-01","o":1978,"p":"dur","e":2770,"l":2370,"h":3170},
      {"c":"Sweden","d":"2021-02-01","o":2319,"p":"dur","e":2930,"l":2510,"h":3350},
      {"c":"Sweden","d":"2021-03-01","o":2846,"p":"dur","e":3150,"l":2690,"h":3610},
      {"c":"Sweden","d":"2021-04-01","o":2473,"p":"dur","e":3230,"l":2730,"h":3730},
      {"c":"Sweden","d":"2021-05-01","o":2418,"p":"dur","e":2950,"l":2470,"h":3430},
      {"c":"Sweden","d":"2021-06-01","o":2198,"p":"dur","e":2300,"l":1900,"h":2700},
      {"c":"Sweden","d":"2021-07-01","o":1033,"p":"dur","e":1230,"l":880,"h":1580},
      {"c":"Sweden","d":"2021-08-01","o":1560,"p":"dur","e":2150,"l":1730,"h":2570},
      {"c":"Sweden","d":"2021-09-01","o":2374,"p":"dur","e":2770,"l":2300,"h":3240},
      {"c":"Sweden","d":"2021-10-01","o":2627,"p":"dur","e":3150,"l":2630,"h":3670},
      {"c":"Sweden","d":"2021-11-01","o":2879,"p":"dur","e":3340,"l":2800,"h":3880},
      {"c":"Sweden","d":"2021-12-01","o":2374,"p":"dur","e":3150,"l":2630,"h":3670},

      {"c":"United States","d":"2018-01-01","o":3217,"p":"pre","e":3200,"l":3070,"h":3330},
      {"c":"United States","d":"2018-02-01","o":3061,"p":"pre","e":3150,"l":3020,"h":3280},
      {"c":"United States","d":"2018-03-01","o":3157,"p":"pre","e":3080,"l":2950,"h":3210},
      {"c":"United States","d":"2018-04-01","o":3121,"p":"pre","e":3000,"l":2870,"h":3130},
      {"c":"United States","d":"2018-05-01","o":3302,"p":"pre","e":2960,"l":2830,"h":3090},
      {"c":"United States","d":"2018-06-01","o":3049,"p":"pre","e":2990,"l":2860,"h":3120},
      {"c":"United States","d":"2018-07-01","o":3037,"p":"pre","e":3000,"l":2870,"h":3130},
      {"c":"United States","d":"2018-08-01","o":3037,"p":"pre","e":2930,"l":2800,"h":3060},
      {"c":"United States","d":"2018-09-01","o":2639,"p":"pre","e":2860,"l":2730,"h":2990},
      {"c":"United States","d":"2018-10-01","o":3302,"p":"pre","e":2870,"l":2740,"h":3000},
      {"c":"United States","d":"2018-11-01","o":3000,"p":"pre","e":2900,"l":2770,"h":3030},
      {"c":"United States","d":"2018-12-01","o":2555,"p":"pre","e":2860,"l":2730,"h":2990},
      {"c":"United States","d":"2019-01-01","o":2916,"p":"pre","e":2790,"l":2660,"h":2920},
      {"c":"United States","d":"2019-02-01","o":2555,"p":"pre","e":2740,"l":2610,"h":2870},
      {"c":"United States","d":"2019-03-01","o":2615,"p":"pre","e":2760,"l":2630,"h":2890},
      {"c":"United States","d":"2019-04-01","o":2784,"p":"pre","e":2720,"l":2590,"h":2850},
      {"c":"United States","d":"2019-05-01","o":2567,"p":"pre","e":2640,"l":2510,"h":2770},
      {"c":"United States","d":"2019-06-01","o":2302,"p":"pre","e":2600,"l":2470,"h":2730},
      {"c":"United States","d":"2019-07-01","o":2518,"p":"pre","e":2630,"l":2500,"h":2760},
      {"c":"United States","d":"2019-08-01","o":2603,"p":"pre","e":2660,"l":2530,"h":2790},
      {"c":"United States","d":"2019-09-01","o":2543,"p":"pre","e":2640,"l":2510,"h":2770},
      {"c":"United States","d":"2019-10-01","o":2976,"p":"pre","e":2580,"l":2450,"h":2710},
      {"c":"United States","d":"2019-11-01","o":2615,"p":"pre","e":2530,"l":2400,"h":2660},
      {"c":"United States","d":"2019-12-01","o":2482,"p":"pre","e":2500,"l":2370,"h":2630},
      {"c":"United States","d":"2020-01-01","o":2760,"p":"pre","e":2460,"l":2330,"h":2590},
      {"c":"United States","d":"2020-02-01","o":2615,"p":"pre","e":2450,"l":2320,"h":2580},
      {"c":"United States","d":"2020-03-01","o":1964,"p":"dur","e":2440,"l":2240,"h":2640},
      {"c":"United States","d":"2020-04-01","o":1699,"p":"dur","e":2420,"l":2210,"h":2630},
      {"c":"United States","d":"2020-05-01","o":1832,"p":"dur","e":2380,"l":2160,"h":2600},
      {"c":"United States","d":"2020-06-01","o":2543,"p":"dur","e":2360,"l":2130,"h":2590},
      {"c":"United States","d":"2020-07-01","o":2494,"p":"dur","e":2400,"l":2160,"h":2640},
      {"c":"United States","d":"2020-08-01","o":2422,"p":"dur","e":2390,"l":2140,"h":2640},
      {"c":"United States","d":"2020-09-01","o":2446,"p":"dur","e":2330,"l":2070,"h":2590},
      {"c":"United States","d":"2020-10-01","o":2434,"p":"dur","e":2280,"l":2010,"h":2550},
      {"c":"United States","d":"2020-11-01","o":2241,"p":"dur","e":2300,"l":2020,"h":2580},
      {"c":"United States","d":"2020-12-01","o":2398,"p":"dur","e":2330,"l":2040,"h":2620},
      {"c":"United States","d":"2021-01-01","o":157,"p":"dur","e":2280,"l":1980,"h":2580},
      {"c":"United States","d":"2021-02-01","o":145,"p":"dur","e":2190,"l":1880,"h":2500},
      {"c":"United States","d":"2021-03-01","o":205,"p":"dur","e":2160,"l":1840,"h":2480},
      {"c":"United States","d":"2021-04-01","o":2735,"p":"dur","e":2180,"l":1850,"h":2510},
      {"c":"United States","d":"2021-05-01","o":2555,"p":"dur","e":2160,"l":1825,"h":2495},
      {"c":"United States","d":"2021-06-01","o":2663,"p":"dur","e":2100,"l":1760,"h":2440},
      {"c":"United States","d":"2021-07-01","o":2555,"p":"dur","e":2040,"l":1695,"h":2385},
      {"c":"United States","d":"2021-08-01","o":2639,"p":"dur","e":2060,"l":1710,"h":2410},
      {"c":"United States","d":"2021-09-01","o":2723,"p":"dur","e":2080,"l":1725,"h":2435},
      {"c":"United States","d":"2021-10-01","o":2856,"p":"dur","e":2060,"l":1700,"h":2420},
      {"c":"United States","d":"2021-11-01","o":2844,"p":"dur","e":2030,"l":1665,"h":2395},
      {"c":"United States","d":"2021-12-01","o":2868,"p":"dur","e":2000,"l":1630,"h":2370}
    ]
  },
  "data": {"name": "obs"},
  "columns": 3,
  "bounds": "flush",
  "spacing": {"row": 30, "column": 38},
  "concat": [
    {
      "width": 193, "height": 102,
      "layer": [
        {
          "transform": [{"filter": "datum.c === 'Argentina'"}],
          "encoding": {"x": {"field": "d", "type": "temporal", "scale": {"type": "utc", "nice": false, "domain": [{"year": 2017, "month": 10, "date": 21, "utc": true}, {"year": 2022, "month": 2, "date": 11, "utc": true}]}, "axis": null}},
          "layer": [
            {"mark": {"type": "area", "color": "#c6dcf8", "opacity": 1, "clip": true}, "encoding": {"y": {"field": "l", "type": "quantitative", "scale": {"domain": [1050, 5120], "nice": false, "zero": false}, "axis": {"values": [2000, 3000, 4000, 5000], "format": ",.0f", "title": null}}, "y2": {"field": "h"}}},
            {"mark": {"type": "line", "color": "#0000ff", "strokeWidth": 1.5, "clip": true}, "encoding": {"y": {"field": "e", "type": "quantitative", "scale": {"domain": [1050, 5120], "nice": false, "zero": false}, "axis": {"values": [2000, 3000, 4000, 5000], "format": ",.0f", "title": null}}}},
            {"mark": {"type": "point", "filled": true, "size": 400, "opacity": 1, "strokeWidth": 0}, "encoding": {"y": {"field": "o", "type": "quantitative", "scale": {"domain": [1050, 5120], "nice": false, "zero": false}, "axis": {"values": [2000, 3000, 4000, 5000], "format": ",.0f", "title": null}},
              "color": {"field": "p", "type": "nominal", "scale": {"domain": ["pre", "dur", "exp", "ci"], "range": ["#08306b", "#9bbf2d", "#0000ff", "#c6dcf8"]},
                "legend": {"orient": "bottom", "direction": "horizontal", "title": "\u00a0", "titleOrient": "left", "titleFontSize": 1, "titlePadding": 45, "offset": 14, "labelOffset": 7, "columnPadding": 8, "symbolSize": 400, "symbolOpacity": 1,
                  "labelExpr": "datum.value === 'pre' ? 'Observed pre pandemic' : datum.value === 'dur' ? 'Observed during pandemic' : datum.value === 'exp' ? 'Expected' : '95% Confidence Interval'"}},
              "shape": {"field": "p", "type": "nominal", "scale": {"domain": ["pre", "dur", "exp", "ci"], "range": ["M0.27,0A0.27,0.27 0 1,1 -0.27,0A0.27,0.27 0 1,1 0.27,0Z", "M0.27,0A0.27,0.27 0 1,1 -0.27,0A0.27,0.27 0 1,1 0.27,0Z", "M-0.85,-0.08L0.85,-0.08L0.85,0.08L-0.85,0.08Z", "square"]},
                "legend": {"orient": "bottom", "direction": "horizontal", "title": "\u00a0", "titleOrient": "left", "titleFontSize": 1, "titlePadding": 45, "offset": 14, "labelOffset": 7, "columnPadding": 8, "symbolSize": 400, "symbolOpacity": 1,
                  "labelExpr": "datum.value === 'pre' ? 'Observed pre pandemic' : datum.value === 'dur' ? 'Observed during pandemic' : datum.value === 'exp' ? 'Expected' : '95% Confidence Interval'"}}}}
          ]
        },
        {
          "data": {"name": "ev"},
          "transform": [{"filter": "datum.k === 'who'"}],
          "mark": {"type": "rule", "strokeDash": [4, 3], "strokeWidth": 1.3},
          "encoding": {
            "x": {"field": "d", "type": "temporal", "scale": {"type": "utc", "nice": false, "domain": [{"year": 2017, "month": 10, "date": 21, "utc": true}, {"year": 2022, "month": 2, "date": 11, "utc": true}]}, "axis": null},
            "stroke": {"field": "event", "type": "nominal", "scale": {"domain": ["WHO declares global pandemic", "China declares a state of public health emergency"], "range": ["#e41a1c", "#f7b3bd"]},
              "legend": {"orient": "bottom", "direction": "horizontal", "title": "\u00a0", "titleOrient": "left", "titleFontSize": 1, "titlePadding": 39, "offset": 14, "symbolType": "M0,-1L0,1", "symbolSize": 324, "symbolDash": [3, 2], "symbolStrokeWidth": 1.2, "labelOffset": 2, "columnPadding": 10}}
          }
        },
        {
          "data": {"name": "names"},
          "transform": [{"filter": "datum.c === 'Argentina'"}],
          "layer": [
            {"mark": {"type": "rect", "fill": "#ffffff", "stroke": "#333333", "strokeWidth": 1, "clip": false}, "encoding": {"y": {"datum": 1, "type": "quantitative", "scale": {"domain": [0, 1], "nice": false, "zero": false}, "axis": null}, "y2": {"datum": 1.2255}}},
            {"mark": {"type": "text", "font": "Liberation Sans", "fontSize": 12.3, "color": "#1a1a1a", "baseline": "middle", "clip": false}, "encoding": {"text": {"field": "c"}, "y": {"datum": 1.1127, "type": "quantitative", "scale": {"domain": [0, 1], "nice": false, "zero": false}, "axis": null}}}
          ]
        }
      ],
      "resolve": {"scale": {"y": "independent"}}
    },
    {
      "width": 193, "height": 102,
      "layer": [
        {
          "transform": [{"filter": "datum.c === 'Australia'"}],
          "encoding": {"x": {"field": "d", "type": "temporal", "scale": {"type": "utc", "nice": false, "domain": [{"year": 2017, "month": 10, "date": 21, "utc": true}, {"year": 2022, "month": 2, "date": 11, "utc": true}]}, "axis": null}},
          "layer": [
            {"mark": {"type": "area", "color": "#c6dcf8", "opacity": 1, "clip": true}, "encoding": {"y": {"field": "l", "type": "quantitative", "scale": {"domain": [1720, 4265], "nice": false, "zero": false}, "axis": {"values": [2000, 2500, 3000, 3500, 4000], "format": ",.0f", "title": null}}, "y2": {"field": "h"}}},
            {"mark": {"type": "line", "color": "#0000ff", "strokeWidth": 1.5, "clip": true}, "encoding": {"y": {"field": "e", "type": "quantitative", "scale": {"domain": [1720, 4265], "nice": false, "zero": false}, "axis": {"values": [2000, 2500, 3000, 3500, 4000], "format": ",.0f", "title": null}}}},
            {"mark": {"type": "point", "filled": true, "size": 400, "opacity": 1, "strokeWidth": 0}, "encoding": {"y": {"field": "o", "type": "quantitative", "scale": {"domain": [1720, 4265], "nice": false, "zero": false}, "axis": {"values": [2000, 2500, 3000, 3500, 4000], "format": ",.0f", "title": null}},
              "color": {"field": "p", "type": "nominal", "scale": {"domain": ["pre", "dur", "exp", "ci"], "range": ["#08306b", "#9bbf2d", "#0000ff", "#c6dcf8"]}, "legend": null},
              "shape": {"field": "p", "type": "nominal", "scale": {"domain": ["pre", "dur", "exp", "ci"], "range": ["M0.27,0A0.27,0.27 0 1,1 -0.27,0A0.27,0.27 0 1,1 0.27,0Z", "M0.27,0A0.27,0.27 0 1,1 -0.27,0A0.27,0.27 0 1,1 0.27,0Z", "M-0.85,-0.08L0.85,-0.08L0.85,0.08L-0.85,0.08Z", "square"]}, "legend": null}}}
          ]
        },
        {
          "data": {"name": "ev"},
          "transform": [{"filter": "datum.k === 'who'"}],
          "mark": {"type": "rule", "strokeDash": [4, 3], "strokeWidth": 1.3},
          "encoding": {
            "x": {"field": "d", "type": "temporal", "scale": {"type": "utc", "nice": false, "domain": [{"year": 2017, "month": 10, "date": 21, "utc": true}, {"year": 2022, "month": 2, "date": 11, "utc": true}]}, "axis": null},
            "stroke": {"field": "event", "type": "nominal", "scale": {"domain": ["WHO declares global pandemic", "China declares a state of public health emergency"], "range": ["#e41a1c", "#f7b3bd"]}, "legend": null}
          }
        },
        {
          "data": {"name": "names"},
          "transform": [{"filter": "datum.c === 'Australia'"}],
          "layer": [
            {"mark": {"type": "rect", "fill": "#ffffff", "stroke": "#333333", "strokeWidth": 1, "clip": false}, "encoding": {"y": {"datum": 1, "type": "quantitative", "scale": {"domain": [0, 1], "nice": false, "zero": false}, "axis": null}, "y2": {"datum": 1.2255}}},
            {"mark": {"type": "text", "font": "Liberation Sans", "fontSize": 12.3, "color": "#1a1a1a", "baseline": "middle", "clip": false}, "encoding": {"text": {"field": "c"}, "y": {"datum": 1.1127, "type": "quantitative", "scale": {"domain": [0, 1], "nice": false, "zero": false}, "axis": null}}}
          ]
        }
      ],
      "resolve": {"scale": {"y": "independent"}}
    },
    {
      "width": 193, "height": 102,
      "layer": [
        {
          "transform": [{"filter": "datum.c === 'Canada'"}],
          "encoding": {"x": {"field": "d", "type": "temporal", "scale": {"type": "utc", "nice": false, "domain": [{"year": 2017, "month": 10, "date": 21, "utc": true}, {"year": 2022, "month": 2, "date": 11, "utc": true}]}, "axis": null}},
          "layer": [
            {"mark": {"type": "area", "color": "#c6dcf8", "opacity": 1, "clip": true}, "encoding": {"y": {"field": "l", "type": "quantitative", "scale": {"domain": [2733, 5670], "nice": false, "zero": false}, "axis": {"values": [3000, 4000, 5000], "format": ",.0f", "title": null}}, "y2": {"field": "h"}}},
            {"mark": {"type": "line", "color": "#0000ff", "strokeWidth": 1.5, "clip": true}, "encoding": {"y": {"field": "e", "type": "quantitative", "scale": {"domain": [2733, 5670], "nice": false, "zero": false}, "axis": {"values": [3000, 4000, 5000], "format": ",.0f", "title": null}}}},
            {"mark": {"type": "point", "filled": true, "size": 400, "opacity": 1, "strokeWidth": 0}, "encoding": {"y": {"field": "o", "type": "quantitative", "scale": {"domain": [2733, 5670], "nice": false, "zero": false}, "axis": {"values": [3000, 4000, 5000], "format": ",.0f", "title": null}},
              "color": {"field": "p", "type": "nominal", "scale": {"domain": ["pre", "dur", "exp", "ci"], "range": ["#08306b", "#9bbf2d", "#0000ff", "#c6dcf8"]}, "legend": null},
              "shape": {"field": "p", "type": "nominal", "scale": {"domain": ["pre", "dur", "exp", "ci"], "range": ["M0.27,0A0.27,0.27 0 1,1 -0.27,0A0.27,0.27 0 1,1 0.27,0Z", "M0.27,0A0.27,0.27 0 1,1 -0.27,0A0.27,0.27 0 1,1 0.27,0Z", "M-0.85,-0.08L0.85,-0.08L0.85,0.08L-0.85,0.08Z", "square"]}, "legend": null}}}
          ]
        },
        {
          "data": {"name": "ev"},
          "transform": [{"filter": "datum.k === 'who'"}],
          "mark": {"type": "rule", "strokeDash": [4, 3], "strokeWidth": 1.3},
          "encoding": {
            "x": {"field": "d", "type": "temporal", "scale": {"type": "utc", "nice": false, "domain": [{"year": 2017, "month": 10, "date": 21, "utc": true}, {"year": 2022, "month": 2, "date": 11, "utc": true}]}, "axis": null},
            "stroke": {"field": "event", "type": "nominal", "scale": {"domain": ["WHO declares global pandemic", "China declares a state of public health emergency"], "range": ["#e41a1c", "#f7b3bd"]}, "legend": null}
          }
        },
        {
          "data": {"name": "names"},
          "transform": [{"filter": "datum.c === 'Canada'"}],
          "layer": [
            {"mark": {"type": "rect", "fill": "#ffffff", "stroke": "#333333", "strokeWidth": 1, "clip": false}, "encoding": {"y": {"datum": 1, "type": "quantitative", "scale": {"domain": [0, 1], "nice": false, "zero": false}, "axis": null}, "y2": {"datum": 1.2255}}},
            {"mark": {"type": "text", "font": "Liberation Sans", "fontSize": 12.3, "color": "#1a1a1a", "baseline": "middle", "clip": false}, "encoding": {"text": {"field": "c"}, "y": {"datum": 1.1127, "type": "quantitative", "scale": {"domain": [0, 1], "nice": false, "zero": false}, "axis": null}}}
          ]
        }
      ],
      "resolve": {"scale": {"y": "independent"}}
    },
    {
      "width": 193, "height": 102,
      "layer": [
        {
          "transform": [{"filter": "datum.c === 'China'"}],
          "encoding": {"x": {"field": "d", "type": "temporal", "scale": {"type": "utc", "nice": false, "domain": [{"year": 2017, "month": 10, "date": 21, "utc": true}, {"year": 2022, "month": 2, "date": 11, "utc": true}]}, "axis": null}},
          "layer": [
            {"mark": {"type": "area", "color": "#c6dcf8", "opacity": 1, "clip": true}, "encoding": {"y": {"field": "l", "type": "quantitative", "scale": {"domain": [-15, 1830], "nice": false, "zero": false}, "axis": {"values": [0, 500, 1000, 1500], "format": ",.0f", "title": "Number of visits"}}, "y2": {"field": "h"}}},
            {"mark": {"type": "line", "color": "#0000ff", "strokeWidth": 1.5, "clip": true}, "encoding": {"y": {"field": "e", "type": "quantitative", "scale": {"domain": [-15, 1830], "nice": false, "zero": false}, "axis": {"values": [0, 500, 1000, 1500], "format": ",.0f", "title": "Number of visits"}}}},
            {"mark": {"type": "point", "filled": true, "size": 400, "opacity": 1, "strokeWidth": 0}, "encoding": {"y": {"field": "o", "type": "quantitative", "scale": {"domain": [-15, 1830], "nice": false, "zero": false}, "axis": {"values": [0, 500, 1000, 1500], "format": ",.0f", "title": "Number of visits"}},
              "color": {"field": "p", "type": "nominal", "scale": {"domain": ["pre", "dur", "exp", "ci"], "range": ["#08306b", "#9bbf2d", "#0000ff", "#c6dcf8"]}, "legend": null},
              "shape": {"field": "p", "type": "nominal", "scale": {"domain": ["pre", "dur", "exp", "ci"], "range": ["M0.27,0A0.27,0.27 0 1,1 -0.27,0A0.27,0.27 0 1,1 0.27,0Z", "M0.27,0A0.27,0.27 0 1,1 -0.27,0A0.27,0.27 0 1,1 0.27,0Z", "M-0.85,-0.08L0.85,-0.08L0.85,0.08L-0.85,0.08Z", "square"]}, "legend": null}}}
          ]
        },
        {
          "data": {"name": "ev"},
          "mark": {"type": "rule", "strokeDash": [4, 3], "strokeWidth": 1.3},
          "encoding": {
            "x": {"field": "d", "type": "temporal", "scale": {"type": "utc", "nice": false, "domain": [{"year": 2017, "month": 10, "date": 21, "utc": true}, {"year": 2022, "month": 2, "date": 11, "utc": true}]}, "axis": null},
            "stroke": {"field": "event", "type": "nominal", "scale": {"domain": ["WHO declares global pandemic", "China declares a state of public health emergency"], "range": ["#e41a1c", "#f7b3bd"]}, "legend": null}
          }
        },
        {
          "data": {"name": "names"},
          "transform": [{"filter": "datum.c === 'China'"}],
          "layer": [
            {"mark": {"type": "rect", "fill": "#ffffff", "stroke": "#333333", "strokeWidth": 1, "clip": false}, "encoding": {"y": {"datum": 1, "type": "quantitative", "scale": {"domain": [0, 1], "nice": false, "zero": false}, "axis": null}, "y2": {"datum": 1.2255}}},
            {"mark": {"type": "text", "font": "Liberation Sans", "fontSize": 12.3, "color": "#1a1a1a", "baseline": "middle", "clip": false}, "encoding": {"text": {"field": "c"}, "y": {"datum": 1.1127, "type": "quantitative", "scale": {"domain": [0, 1], "nice": false, "zero": false}, "axis": null}}}
          ]
        }
      ],
      "resolve": {"scale": {"y": "independent"}}
    },
    {
      "width": 193, "height": 102,
      "layer": [
        {
          "transform": [{"filter": "datum.c === 'Norway'"}],
          "encoding": {"x": {"field": "d", "type": "temporal", "scale": {"type": "utc", "nice": false, "domain": [{"year": 2017, "month": 10, "date": 21, "utc": true}, {"year": 2022, "month": 2, "date": 11, "utc": true}]}, "axis": null}},
          "layer": [
            {"mark": {"type": "area", "color": "#c6dcf8", "opacity": 1, "clip": true}, "encoding": {"y": {"field": "l", "type": "quantitative", "scale": {"domain": [17950, 54400], "nice": false, "zero": false}, "axis": {"values": [20000, 30000, 40000, 50000], "format": ",.0f", "title": null}}, "y2": {"field": "h"}}},
            {"mark": {"type": "line", "color": "#0000ff", "strokeWidth": 1.5, "clip": true}, "encoding": {"y": {"field": "e", "type": "quantitative", "scale": {"domain": [17950, 54400], "nice": false, "zero": false}, "axis": {"values": [20000, 30000, 40000, 50000], "format": ",.0f", "title": null}}}},
            {"mark": {"type": "point", "filled": true, "size": 400, "opacity": 1, "strokeWidth": 0}, "encoding": {"y": {"field": "o", "type": "quantitative", "scale": {"domain": [17950, 54400], "nice": false, "zero": false}, "axis": {"values": [20000, 30000, 40000, 50000], "format": ",.0f", "title": null}},
              "color": {"field": "p", "type": "nominal", "scale": {"domain": ["pre", "dur", "exp", "ci"], "range": ["#08306b", "#9bbf2d", "#0000ff", "#c6dcf8"]}, "legend": null},
              "shape": {"field": "p", "type": "nominal", "scale": {"domain": ["pre", "dur", "exp", "ci"], "range": ["M0.27,0A0.27,0.27 0 1,1 -0.27,0A0.27,0.27 0 1,1 0.27,0Z", "M0.27,0A0.27,0.27 0 1,1 -0.27,0A0.27,0.27 0 1,1 0.27,0Z", "M-0.85,-0.08L0.85,-0.08L0.85,0.08L-0.85,0.08Z", "square"]}, "legend": null}}}
          ]
        },
        {
          "data": {"name": "ev"},
          "transform": [{"filter": "datum.k === 'who'"}],
          "mark": {"type": "rule", "strokeDash": [4, 3], "strokeWidth": 1.3},
          "encoding": {
            "x": {"field": "d", "type": "temporal", "scale": {"type": "utc", "nice": false, "domain": [{"year": 2017, "month": 10, "date": 21, "utc": true}, {"year": 2022, "month": 2, "date": 11, "utc": true}]}, "axis": null},
            "stroke": {"field": "event", "type": "nominal", "scale": {"domain": ["WHO declares global pandemic", "China declares a state of public health emergency"], "range": ["#e41a1c", "#f7b3bd"]}, "legend": null}
          }
        },
        {
          "data": {"name": "names"},
          "transform": [{"filter": "datum.c === 'Norway'"}],
          "layer": [
            {"mark": {"type": "rect", "fill": "#ffffff", "stroke": "#333333", "strokeWidth": 1, "clip": false}, "encoding": {"y": {"datum": 1, "type": "quantitative", "scale": {"domain": [0, 1], "nice": false, "zero": false}, "axis": null}, "y2": {"datum": 1.2255}}},
            {"mark": {"type": "text", "font": "Liberation Sans", "fontSize": 12.3, "color": "#1a1a1a", "baseline": "middle", "clip": false}, "encoding": {"text": {"field": "c"}, "y": {"datum": 1.1127, "type": "quantitative", "scale": {"domain": [0, 1], "nice": false, "zero": false}, "axis": null}}}
          ]
        }
      ],
      "resolve": {"scale": {"y": "independent"}}
    },
    {
      "width": 193, "height": 102,
      "layer": [
        {
          "transform": [{"filter": "datum.c === 'Peru'"}],
          "encoding": {"x": {"field": "d", "type": "temporal", "scale": {"type": "utc", "nice": false, "domain": [{"year": 2017, "month": 10, "date": 21, "utc": true}, {"year": 2022, "month": 2, "date": 11, "utc": true}]}, "axis": null}},
          "layer": [
            {"mark": {"type": "area", "color": "#c6dcf8", "opacity": 1, "clip": true}, "encoding": {"y": {"field": "l", "type": "quantitative", "scale": {"domain": [44400, 135800], "nice": false, "zero": false}, "axis": {"values": [60000, 80000, 100000, 120000], "format": ",.0f", "title": null}}, "y2": {"field": "h"}}},
            {"mark": {"type": "line", "color": "#0000ff", "strokeWidth": 1.5, "clip": true}, "encoding": {"y": {"field": "e", "type": "quantitative", "scale": {"domain": [44400, 135800], "nice": false, "zero": false}, "axis": {"values": [60000, 80000, 100000, 120000], "format": ",.0f", "title": null}}}},
            {"mark": {"type": "point", "filled": true, "size": 400, "opacity": 1, "strokeWidth": 0}, "encoding": {"y": {"field": "o", "type": "quantitative", "scale": {"domain": [44400, 135800], "nice": false, "zero": false}, "axis": {"values": [60000, 80000, 100000, 120000], "format": ",.0f", "title": null}},
              "color": {"field": "p", "type": "nominal", "scale": {"domain": ["pre", "dur", "exp", "ci"], "range": ["#08306b", "#9bbf2d", "#0000ff", "#c6dcf8"]}, "legend": null},
              "shape": {"field": "p", "type": "nominal", "scale": {"domain": ["pre", "dur", "exp", "ci"], "range": ["M0.27,0A0.27,0.27 0 1,1 -0.27,0A0.27,0.27 0 1,1 0.27,0Z", "M0.27,0A0.27,0.27 0 1,1 -0.27,0A0.27,0.27 0 1,1 0.27,0Z", "M-0.85,-0.08L0.85,-0.08L0.85,0.08L-0.85,0.08Z", "square"]}, "legend": null}}}
          ]
        },
        {
          "data": {"name": "ev"},
          "transform": [{"filter": "datum.k === 'who'"}],
          "mark": {"type": "rule", "strokeDash": [4, 3], "strokeWidth": 1.3},
          "encoding": {
            "x": {"field": "d", "type": "temporal", "scale": {"type": "utc", "nice": false, "domain": [{"year": 2017, "month": 10, "date": 21, "utc": true}, {"year": 2022, "month": 2, "date": 11, "utc": true}]}, "axis": null},
            "stroke": {"field": "event", "type": "nominal", "scale": {"domain": ["WHO declares global pandemic", "China declares a state of public health emergency"], "range": ["#e41a1c", "#f7b3bd"]}, "legend": null}
          }
        },
        {
          "data": {"name": "names"},
          "transform": [{"filter": "datum.c === 'Peru'"}],
          "layer": [
            {"mark": {"type": "rect", "fill": "#ffffff", "stroke": "#333333", "strokeWidth": 1, "clip": false}, "encoding": {"y": {"datum": 1, "type": "quantitative", "scale": {"domain": [0, 1], "nice": false, "zero": false}, "axis": null}, "y2": {"datum": 1.2255}}},
            {"mark": {"type": "text", "font": "Liberation Sans", "fontSize": 12.3, "color": "#1a1a1a", "baseline": "middle", "clip": false}, "encoding": {"text": {"field": "c"}, "y": {"datum": 1.1127, "type": "quantitative", "scale": {"domain": [0, 1], "nice": false, "zero": false}, "axis": null}}}
          ]
        }
      ],
      "resolve": {"scale": {"y": "independent"}}
    },
    {
      "width": 193, "height": 102,
      "layer": [
        {
          "transform": [{"filter": "datum.c === 'Singapore'"}],
          "encoding": {"x": {"field": "d", "type": "temporal", "scale": {"type": "utc", "nice": false, "domain": [{"year": 2017, "month": 10, "date": 21, "utc": true}, {"year": 2022, "month": 2, "date": 11, "utc": true}]}, "axis": {"values": [{"year": 2018, "month": 1, "date": 1, "utc": true}, {"year": 2019, "month": 1, "date": 1, "utc": true}, {"year": 2020, "month": 1, "date": 1, "utc": true}, {"year": 2021, "month": 1, "date": 1, "utc": true}, {"year": 2022, "month": 1, "date": 1, "utc": true}], "format": "%Y", "title": null}}},
          "layer": [
            {"mark": {"type": "area", "color": "#c6dcf8", "opacity": 1, "clip": true}, "encoding": {"y": {"field": "l", "type": "quantitative", "scale": {"domain": [7340, 13420], "nice": false, "zero": false}, "axis": {"values": [8000, 9000, 10000, 11000, 12000, 13000], "format": ",.0f", "title": null}}, "y2": {"field": "h"}}},
            {"mark": {"type": "line", "color": "#0000ff", "strokeWidth": 1.5, "clip": true}, "encoding": {"y": {"field": "e", "type": "quantitative", "scale": {"domain": [7340, 13420], "nice": false, "zero": false}, "axis": {"values": [8000, 9000, 10000, 11000, 12000, 13000], "format": ",.0f", "title": null}}}},
            {"mark": {"type": "point", "filled": true, "size": 400, "opacity": 1, "strokeWidth": 0}, "encoding": {"y": {"field": "o", "type": "quantitative", "scale": {"domain": [7340, 13420], "nice": false, "zero": false}, "axis": {"values": [8000, 9000, 10000, 11000, 12000, 13000], "format": ",.0f", "title": null}},
              "color": {"field": "p", "type": "nominal", "scale": {"domain": ["pre", "dur", "exp", "ci"], "range": ["#08306b", "#9bbf2d", "#0000ff", "#c6dcf8"]}, "legend": null},
              "shape": {"field": "p", "type": "nominal", "scale": {"domain": ["pre", "dur", "exp", "ci"], "range": ["M0.27,0A0.27,0.27 0 1,1 -0.27,0A0.27,0.27 0 1,1 0.27,0Z", "M0.27,0A0.27,0.27 0 1,1 -0.27,0A0.27,0.27 0 1,1 0.27,0Z", "M-0.85,-0.08L0.85,-0.08L0.85,0.08L-0.85,0.08Z", "square"]}, "legend": null}}}
          ]
        },
        {
          "data": {"name": "ev"},
          "transform": [{"filter": "datum.k === 'who'"}],
          "mark": {"type": "rule", "strokeDash": [4, 3], "strokeWidth": 1.3},
          "encoding": {
            "x": {"field": "d", "type": "temporal", "scale": {"type": "utc", "nice": false, "domain": [{"year": 2017, "month": 10, "date": 21, "utc": true}, {"year": 2022, "month": 2, "date": 11, "utc": true}]}, "axis": {"values": [{"year": 2018, "month": 1, "date": 1, "utc": true}, {"year": 2019, "month": 1, "date": 1, "utc": true}, {"year": 2020, "month": 1, "date": 1, "utc": true}, {"year": 2021, "month": 1, "date": 1, "utc": true}, {"year": 2022, "month": 1, "date": 1, "utc": true}], "format": "%Y", "title": null}},
            "stroke": {"field": "event", "type": "nominal", "scale": {"domain": ["WHO declares global pandemic", "China declares a state of public health emergency"], "range": ["#e41a1c", "#f7b3bd"]}, "legend": null}
          }
        },
        {
          "data": {"name": "names"},
          "transform": [{"filter": "datum.c === 'Singapore'"}],
          "layer": [
            {"mark": {"type": "rect", "fill": "#ffffff", "stroke": "#333333", "strokeWidth": 1, "clip": false}, "encoding": {"y": {"datum": 1, "type": "quantitative", "scale": {"domain": [0, 1], "nice": false, "zero": false}, "axis": null}, "y2": {"datum": 1.2255}}},
            {"mark": {"type": "text", "font": "Liberation Sans", "fontSize": 12.3, "color": "#1a1a1a", "baseline": "middle", "clip": false}, "encoding": {"text": {"field": "c"}, "y": {"datum": 1.1127, "type": "quantitative", "scale": {"domain": [0, 1], "nice": false, "zero": false}, "axis": null}}}
          ]
        }
      ],
      "resolve": {"scale": {"y": "independent"}}
    },
    {
      "width": 193, "height": 102,
      "layer": [
        {
          "transform": [{"filter": "datum.c === 'Sweden'"}],
          "encoding": {"x": {"field": "d", "type": "temporal", "scale": {"type": "utc", "nice": false, "domain": [{"year": 2017, "month": 10, "date": 21, "utc": true}, {"year": 2022, "month": 2, "date": 11, "utc": true}]}, "axis": {"values": [{"year": 2018, "month": 1, "date": 1, "utc": true}, {"year": 2019, "month": 1, "date": 1, "utc": true}, {"year": 2020, "month": 1, "date": 1, "utc": true}, {"year": 2021, "month": 1, "date": 1, "utc": true}, {"year": 2022, "month": 1, "date": 1, "utc": true}], "format": "%Y", "title": "Date"}}},
          "layer": [
            {"mark": {"type": "area", "color": "#c6dcf8", "opacity": 1, "clip": true}, "encoding": {"y": {"field": "l", "type": "quantitative", "scale": {"domain": [680, 4025], "nice": false, "zero": false}, "axis": {"values": [1000, 2000, 3000, 4000], "format": ",.0f", "title": null}}, "y2": {"field": "h"}}},
            {"mark": {"type": "line", "color": "#0000ff", "strokeWidth": 1.5, "clip": true}, "encoding": {"y": {"field": "e", "type": "quantitative", "scale": {"domain": [680, 4025], "nice": false, "zero": false}, "axis": {"values": [1000, 2000, 3000, 4000], "format": ",.0f", "title": null}}}},
            {"mark": {"type": "point", "filled": true, "size": 400, "opacity": 1, "strokeWidth": 0}, "encoding": {"y": {"field": "o", "type": "quantitative", "scale": {"domain": [680, 4025], "nice": false, "zero": false}, "axis": {"values": [1000, 2000, 3000, 4000], "format": ",.0f", "title": null}},
              "color": {"field": "p", "type": "nominal", "scale": {"domain": ["pre", "dur", "exp", "ci"], "range": ["#08306b", "#9bbf2d", "#0000ff", "#c6dcf8"]}, "legend": null},
              "shape": {"field": "p", "type": "nominal", "scale": {"domain": ["pre", "dur", "exp", "ci"], "range": ["M0.27,0A0.27,0.27 0 1,1 -0.27,0A0.27,0.27 0 1,1 0.27,0Z", "M0.27,0A0.27,0.27 0 1,1 -0.27,0A0.27,0.27 0 1,1 0.27,0Z", "M-0.85,-0.08L0.85,-0.08L0.85,0.08L-0.85,0.08Z", "square"]}, "legend": null}}}
          ]
        },
        {
          "data": {"name": "ev"},
          "transform": [{"filter": "datum.k === 'who'"}],
          "mark": {"type": "rule", "strokeDash": [4, 3], "strokeWidth": 1.3},
          "encoding": {
            "x": {"field": "d", "type": "temporal", "scale": {"type": "utc", "nice": false, "domain": [{"year": 2017, "month": 10, "date": 21, "utc": true}, {"year": 2022, "month": 2, "date": 11, "utc": true}]}, "axis": {"values": [{"year": 2018, "month": 1, "date": 1, "utc": true}, {"year": 2019, "month": 1, "date": 1, "utc": true}, {"year": 2020, "month": 1, "date": 1, "utc": true}, {"year": 2021, "month": 1, "date": 1, "utc": true}, {"year": 2022, "month": 1, "date": 1, "utc": true}], "format": "%Y", "title": "Date"}},
            "stroke": {"field": "event", "type": "nominal", "scale": {"domain": ["WHO declares global pandemic", "China declares a state of public health emergency"], "range": ["#e41a1c", "#f7b3bd"]}, "legend": null}
          }
        },
        {
          "data": {"name": "names"},
          "transform": [{"filter": "datum.c === 'Sweden'"}],
          "layer": [
            {"mark": {"type": "rect", "fill": "#ffffff", "stroke": "#333333", "strokeWidth": 1, "clip": false}, "encoding": {"y": {"datum": 1, "type": "quantitative", "scale": {"domain": [0, 1], "nice": false, "zero": false}, "axis": null}, "y2": {"datum": 1.2255}}},
            {"mark": {"type": "text", "font": "Liberation Sans", "fontSize": 12.3, "color": "#1a1a1a", "baseline": "middle", "clip": false}, "encoding": {"text": {"field": "c"}, "y": {"datum": 1.1127, "type": "quantitative", "scale": {"domain": [0, 1], "nice": false, "zero": false}, "axis": null}}}
          ]
        }
      ],
      "resolve": {"scale": {"y": "independent"}}
    },
    {
      "width": 193, "height": 102,
      "layer": [
        {
          "transform": [{"filter": "datum.c === 'United States'"}],
          "encoding": {"x": {"field": "d", "type": "temporal", "scale": {"type": "utc", "nice": false, "domain": [{"year": 2017, "month": 10, "date": 21, "utc": true}, {"year": 2022, "month": 2, "date": 11, "utc": true}]}, "axis": {"values": [{"year": 2018, "month": 1, "date": 1, "utc": true}, {"year": 2019, "month": 1, "date": 1, "utc": true}, {"year": 2020, "month": 1, "date": 1, "utc": true}, {"year": 2021, "month": 1, "date": 1, "utc": true}, {"year": 2022, "month": 1, "date": 1, "utc": true}], "format": "%Y", "title": null}}},
          "layer": [
            {"mark": {"type": "area", "color": "#c6dcf8", "opacity": 1, "clip": true}, "encoding": {"y": {"field": "l", "type": "quantitative", "scale": {"domain": [-15, 3650], "nice": false, "zero": false}, "axis": {"values": [0, 1000, 2000, 3000], "format": ",.0f", "title": null}}, "y2": {"field": "h"}}},
            {"mark": {"type": "line", "color": "#0000ff", "strokeWidth": 1.5, "clip": true}, "encoding": {"y": {"field": "e", "type": "quantitative", "scale": {"domain": [-15, 3650], "nice": false, "zero": false}, "axis": {"values": [0, 1000, 2000, 3000], "format": ",.0f", "title": null}}}},
            {"mark": {"type": "point", "filled": true, "size": 400, "opacity": 1, "strokeWidth": 0}, "encoding": {"y": {"field": "o", "type": "quantitative", "scale": {"domain": [-15, 3650], "nice": false, "zero": false}, "axis": {"values": [0, 1000, 2000, 3000], "format": ",.0f", "title": null}},
              "color": {"field": "p", "type": "nominal", "scale": {"domain": ["pre", "dur", "exp", "ci"], "range": ["#08306b", "#9bbf2d", "#0000ff", "#c6dcf8"]}, "legend": null},
              "shape": {"field": "p", "type": "nominal", "scale": {"domain": ["pre", "dur", "exp", "ci"], "range": ["M0.27,0A0.27,0.27 0 1,1 -0.27,0A0.27,0.27 0 1,1 0.27,0Z", "M0.27,0A0.27,0.27 0 1,1 -0.27,0A0.27,0.27 0 1,1 0.27,0Z", "M-0.85,-0.08L0.85,-0.08L0.85,0.08L-0.85,0.08Z", "square"]}, "legend": null}}}
          ]
        },
        {
          "data": {"name": "ev"},
          "transform": [{"filter": "datum.k === 'who'"}],
          "mark": {"type": "rule", "strokeDash": [4, 3], "strokeWidth": 1.3},
          "encoding": {
            "x": {"field": "d", "type": "temporal", "scale": {"type": "utc", "nice": false, "domain": [{"year": 2017, "month": 10, "date": 21, "utc": true}, {"year": 2022, "month": 2, "date": 11, "utc": true}]}, "axis": {"values": [{"year": 2018, "month": 1, "date": 1, "utc": true}, {"year": 2019, "month": 1, "date": 1, "utc": true}, {"year": 2020, "month": 1, "date": 1, "utc": true}, {"year": 2021, "month": 1, "date": 1, "utc": true}, {"year": 2022, "month": 1, "date": 1, "utc": true}], "format": "%Y", "title": null}},
            "stroke": {"field": "event", "type": "nominal", "scale": {"domain": ["WHO declares global pandemic", "China declares a state of public health emergency"], "range": ["#e41a1c", "#f7b3bd"]}, "legend": null}
          }
        },
        {
          "data": {"name": "names"},
          "transform": [{"filter": "datum.c === 'United States'"}],
          "layer": [
            {"mark": {"type": "rect", "fill": "#ffffff", "stroke": "#333333", "strokeWidth": 1, "clip": false}, "encoding": {"y": {"datum": 1, "type": "quantitative", "scale": {"domain": [0, 1], "nice": false, "zero": false}, "axis": null}, "y2": {"datum": 1.2255}}},
            {"mark": {"type": "text", "font": "Liberation Sans", "fontSize": 12.3, "color": "#1a1a1a", "baseline": "middle", "clip": false}, "encoding": {"text": {"field": "c"}, "y": {"datum": 1.1127, "type": "quantitative", "scale": {"domain": [0, 1], "nice": false, "zero": false}, "axis": null}}}
          ]
        }
      ],
      "resolve": {"scale": {"y": "independent"}}
    }
  ],
  "config": {
    "view": {"stroke": "#333333", "strokeWidth": 1},
    "font": "Liberation Sans",
    "axis": {"domain": false, "grid": false, "tickColor": "#333333", "tickSize": 3, "tickWidth": 0.8, "labelFont": "Liberation Sans", "labelFontSize": 7.7, "labelColor": "#4d4d4d", "labelPadding": 3.5, "titleFont": "Liberation Sans", "titleFontSize": 9.8, "titleFontWeight": "normal", "titleColor": "#1a1a1a"},
    "axisX": {"labelPadding": 2, "titlePadding": 3},
    "axisY": {"titlePadding": 6},
    "legend": {"labelFont": "Liberation Sans", "labelFontSize": 10, "labelColor": "#1a1a1a", "labelLimit": 400, "layout": {"bottom": {"anchor": "middle", "direction": "vertical", "margin": 5, "center": true}}}
  }
}
